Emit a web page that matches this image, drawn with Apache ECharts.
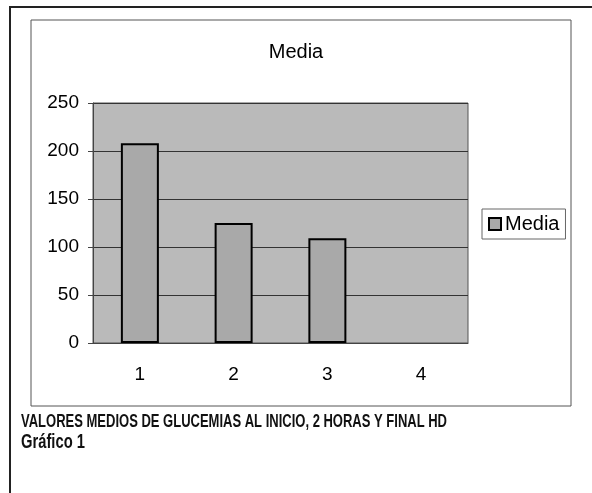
<!DOCTYPE html>
<html>
<head>
<meta charset="utf-8">
<script src="https://cdn.jsdelivr.net/npm/echarts@6/dist/echarts.min.js"></script>
<style>html,body{margin:0;padding:0;background:#fff}#c{width:592px;height:493px}</style>
</head>
<body>
<div id="c"></div>
<script>
const categories = ['1', '2', '3', '4'];
const mediaValues = [208, 125, 109, null];
const yTicks = [0, 50, 100, 150, 200, 250];
const seriesName = 'Media';
const chartTitle = 'Media';
const captionLine1 = 'VALORES MEDIOS DE GLUCEMIAS AL INICIO, 2 HORAS Y FINAL HD';
const captionLine2 = 'Gráfico 1';

const capFont1 = 'bold 18px "Liberation Sans", Arial, sans-serif';
const capFont2 = 'bold 20px "Liberation Sans", Arial, sans-serif';
function measure(txt, font) {
  const cv = document.createElement('canvas').getContext('2d');
  cv.font = font;
  return cv.measureText(txt).width;
}
const scale1 = 426 / measure(captionLine1, capFont1);
const scale2 = 64 / measure(captionLine2, capFont2);

const chart = echarts.init(document.getElementById('c'), null, {renderer: 'canvas'});
chart.setOption({
  animation: false,
  backgroundColor: '#fff',
  title: [
    {text: chartTitle, left: 'center', top: 37, textStyle: {fontFamily: 'Liberation Sans', fontSize: 20, fontWeight: 'normal', color: '#000'}}
  ],
  graphic: [
    {type: 'polyline', shape: {points: [[10, 493], [10, 7], [592, 7]]}, style: {stroke: '#222', lineWidth: 2, fill: null}},
    {type: 'rect', shape: {x: 31, y: 20, width: 540, height: 386}, style: {stroke: '#555', lineWidth: 1, fill: null}, z: -1},
    {type: 'text', x: 21, y: 422, scaleX: scale1, originX: 0, style: {text: captionLine1, font: capFont1, fill: '#111', textVerticalAlign: 'middle', verticalAlign: 'middle'}},
    {type: 'text', x: 21, y: 442, scaleX: scale2, originX: 0, style: {text: captionLine2, font: capFont2, fill: '#111', textVerticalAlign: 'middle', verticalAlign: 'middle'}}
  ],
  legend: {
    left: 482, top: 209,
    itemWidth: 12, itemHeight: 12, itemGap: 4,
    padding: [5, 6, 5, 6],
    borderColor: '#666', borderWidth: 1,
    textStyle: {fontFamily: 'Liberation Sans', fontSize: 20, color: '#000', padding: [0, 0, 0, -1]},
    data: [{name: seriesName, icon: 'rect'}]
  },
  grid: {
    left: 93, top: 103, right: 124, bottom: 150,
    show: true, backgroundColor: '#bababa', borderColor: '#555', borderWidth: 1
  },
  xAxis: {
    type: 'category', data: categories, boundaryGap: true,
    axisLine: {lineStyle: {color: '#444'}},
    axisTick: {length: 5, lineStyle: {color: '#444'}},
    axisLabel: {margin: 22, fontFamily: 'Liberation Sans', fontSize: 19, color: '#000'}
  },
  yAxis: {
    type: 'value', min: yTicks[0], max: yTicks[yTicks.length - 1], interval: 50,
    axisLine: {show: true, lineStyle: {color: '#444'}},
    axisTick: {show: true, length: 5, lineStyle: {color: '#444'}},
    axisLabel: {margin: 14, fontFamily: 'Liberation Sans', fontSize: 19, color: '#000', padding: [5, 0, 0, 0]},
    splitLine: {lineStyle: {color: '#333', width: 1}}
  },
  series: [{
    name: seriesName, type: 'bar', data: mediaValues, barWidth: 38,
    itemStyle: {color: '#a9a9a9', borderColor: '#000', borderWidth: 2}
  }]
});
</script>
</body>
</html>
